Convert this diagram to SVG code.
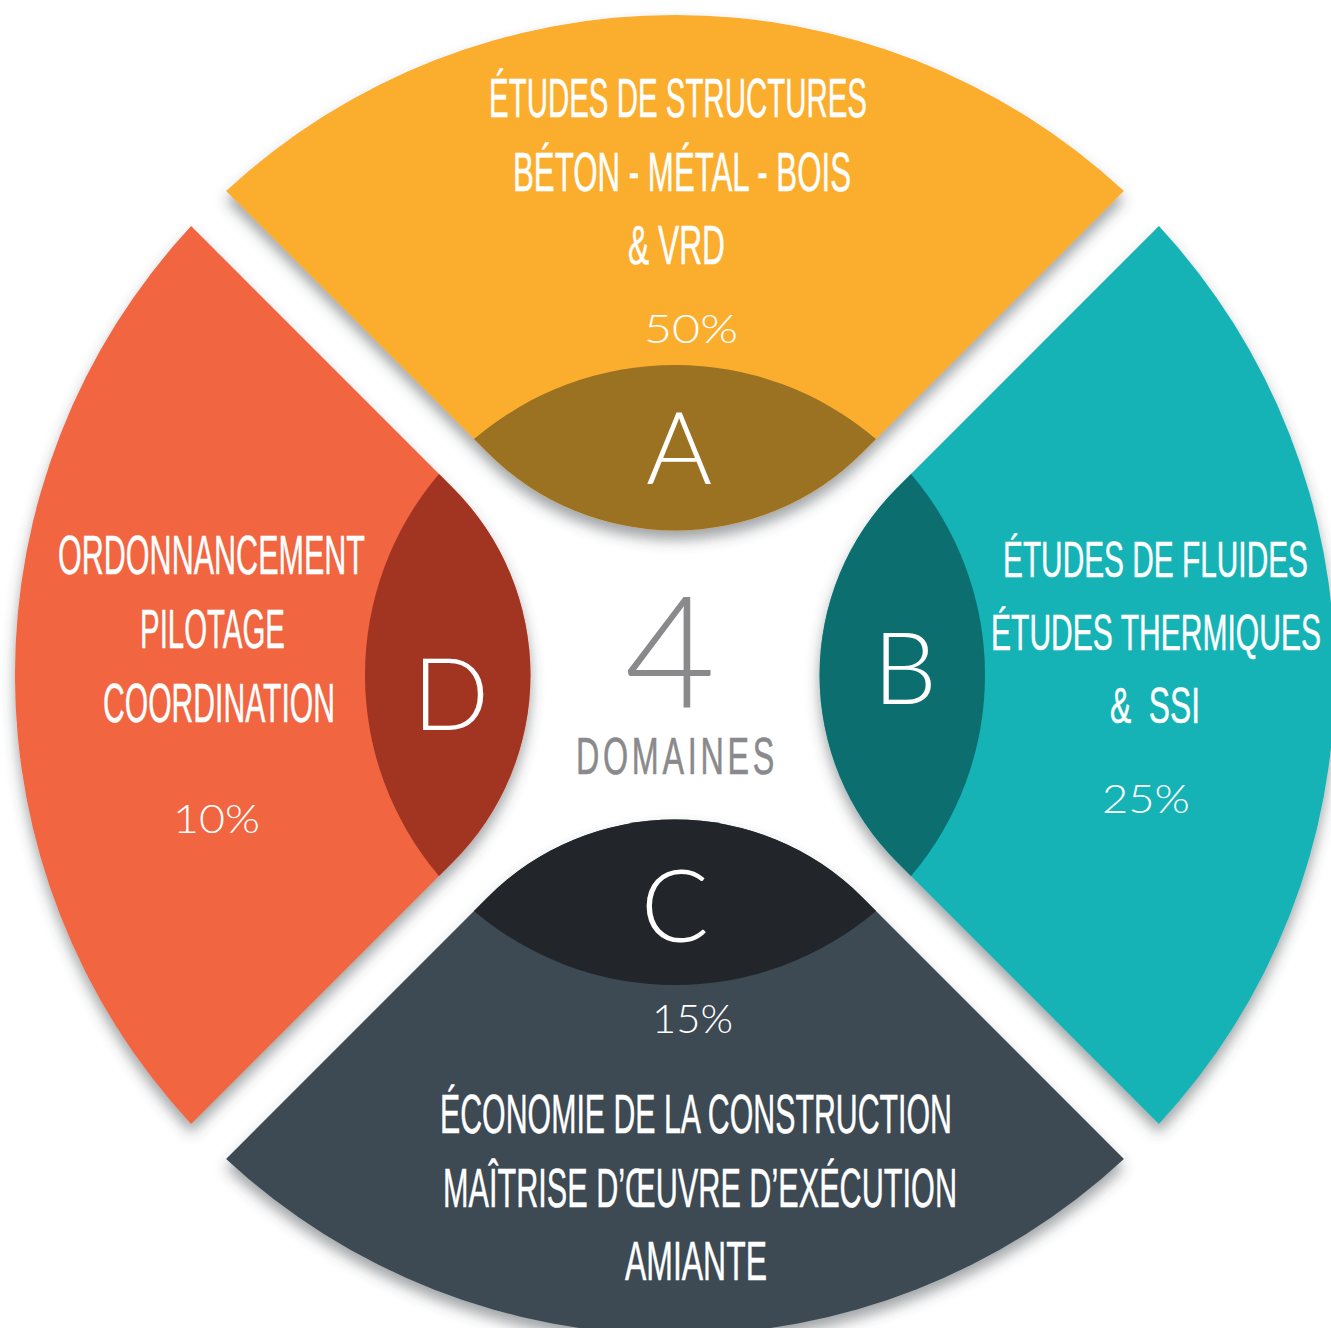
<svg xmlns="http://www.w3.org/2000/svg" xmlns:xlink="http://www.w3.org/1999/xlink" width="1331" height="1328" viewBox="0 0 1331 1328">
<style>
.lbl{font-family:"Liberation Sans","DejaVu Sans",sans-serif;font-size:56px;fill:#fff;stroke:#fff;stroke-width:0.5}
.lblb{font-size:50px}
.pct{font-family:Lato,"DejaVu Sans",sans-serif;font-weight:300;font-size:40px;fill:#fff}
.big{font-family:Lato,"DejaVu Sans",sans-serif;font-weight:300;font-size:101px;fill:#fff;text-anchor:middle}
.gray{fill:#8A8A8C}
</style>
<defs>
<filter id="sh" x="-10%" y="-10%" width="120%" height="130%">
<feGaussianBlur in="SourceAlpha" stdDeviation="7"/>
<feOffset dy="9" result="b"/>
<feFlood flood-color="#40484c" flood-opacity="0.5"/>
<feComposite in2="b" operator="in"/>
<feMerge><feMergeNode/><feMergeNode in="SourceGraphic"/></feMerge>
</filter>
<path id="sec" d="M226.1,191.1 A660,660 0 0 1 1123.9,191.1 L862,453 A264.5,264.5 0 0 1 488,453 Z"/>
<path id="core" d="M474,439 A310,310 0 0 1 876,439 L862,453 A264.5,264.5 0 0 1 488,453 Z"/>
</defs>
<rect width="1331" height="1328" fill="#fff"/>
<g id="connectors"/>
<g id="node-a">
<g filter="url(#sh)"><use href="#sec" fill="#FBAE2F"/><use href="#core" fill="#9A7223"/></g>
<text class="lbl" x="489" y="117" textLength="378" lengthAdjust="spacingAndGlyphs">ÉTUDES DE STRUCTURES</text>
<text class="lbl" x="513" y="191" textLength="338" lengthAdjust="spacingAndGlyphs">BÉTON - MÉTAL - BOIS</text>
<text class="lbl" x="628" y="264" textLength="97" lengthAdjust="spacingAndGlyphs">&amp; VRD</text>
<text class="pct" x="644" y="343" textLength="94" lengthAdjust="spacingAndGlyphs">50%</text>
<text class="big" x="679" y="484">A</text>
</g>
<g id="node-b">
<g filter="url(#sh)"><g transform="rotate(90 675 675)"><use href="#sec" fill="#12B3B6"/><use href="#core" fill="#0E6E70"/></g></g>
<text class="lbl lblb" x="1003" y="577" textLength="305" lengthAdjust="spacingAndGlyphs">ÉTUDES DE FLUIDES</text>
<text class="lbl lblb" x="991" y="650" textLength="330" lengthAdjust="spacingAndGlyphs">ÉTUDES THERMIQUES</text>
<text class="lbl lblb" x="1110" y="723" textLength="90" lengthAdjust="spacingAndGlyphs" xml:space="preserve">&amp;  SSI</text>
<text class="pct" x="1102" y="813" textLength="88" lengthAdjust="spacingAndGlyphs">25%</text>
<text class="big" x="905" y="704">B</text>
</g>
<g id="node-c">
<g filter="url(#sh)"><g transform="rotate(180 675 675)"><use href="#sec" fill="#3D4852"/><use href="#core" fill="#20262C"/></g></g>
<text class="big" x="675" y="942">C</text>
<text class="pct" x="652" y="1033" textLength="81" lengthAdjust="spacingAndGlyphs">15%</text>
<text class="lbl" x="440" y="1133" textLength="512" lengthAdjust="spacingAndGlyphs">ÉCONOMIE DE LA CONSTRUCTION</text>
<text class="lbl" x="443" y="1207" textLength="514" lengthAdjust="spacingAndGlyphs">MAÎTRISE D’ŒUVRE D’EXÉCUTION</text>
<text class="lbl" x="625" y="1280" textLength="142" lengthAdjust="spacingAndGlyphs">AMIANTE</text>
</g>
<g id="node-d">
<g filter="url(#sh)"><g transform="rotate(270 675 675)"><use href="#sec" fill="#F1653F"/><use href="#core" fill="#A23422"/></g></g>
<text class="lbl" x="58" y="574" textLength="307" lengthAdjust="spacingAndGlyphs">ORDONNANCEMENT</text>
<text class="lbl" x="140" y="648" textLength="145" lengthAdjust="spacingAndGlyphs">PILOTAGE</text>
<text class="lbl" x="103" y="722" textLength="232" lengthAdjust="spacingAndGlyphs">COORDINATION</text>
<text class="pct" x="173" y="833" textLength="87" lengthAdjust="spacingAndGlyphs">10%</text>
<text class="big" x="451" y="730">D</text>
</g>
<g id="center">
<text x="670" y="708" font-family="Lato,'DejaVu Sans',sans-serif" font-weight="300" font-size="157" class="gray" text-anchor="middle">4</text>
<text x="576" y="774" font-family="'Liberation Sans',sans-serif" font-size="52" class="gray" stroke="#8A8A8C" stroke-width="0.6" letter-spacing="6" textLength="202" lengthAdjust="spacingAndGlyphs">DOMAINES</text>
</g>
</svg>
